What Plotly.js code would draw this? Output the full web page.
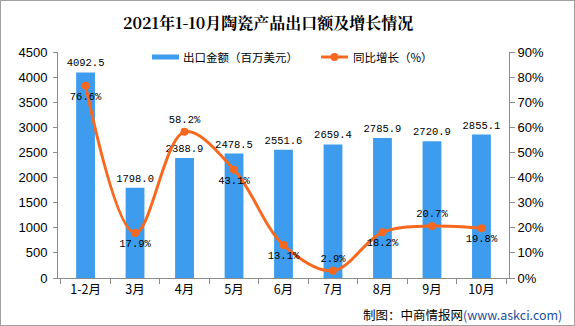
<!DOCTYPE html>
<html>
<head>
<meta charset="utf-8">
<script src="https://cdn.plot.ly/plotly-3.0.1.min.js"></script>
<style>
html,body{margin:0;padding:0;background:#fff;}
#wrap{position:relative;width:575px;height:326px;}
#chart{width:575px;height:326px;}
#frame{position:absolute;left:0;top:0;width:575px;height:326px;box-sizing:border-box;border:1px solid #a0a0a0;pointer-events:none;}
</style>
</head>
<body>
<div id="wrap"><div id="chart"></div><div id="frame"></div></div>
<script>
const categories = ['1-2月','3月','4月','5月','6月','7月','8月','9月','10月'];
const exportValues = [4092.5, 1798.0, 2388.9, 2478.5, 2551.6, 2659.4, 2785.9, 2720.9, 2855.1];
const growthRates = [76.6, 17.9, 58.2, 43.1, 13.1, 2.9, 18.2, 20.7, 19.8];
const growthLabelPos = ['bottom center','bottom center','top center','bottom center','bottom center','top center','bottom center','top center','bottom center'];
const seriesNames = ['出口金额（百万美元）', '同比增长（%）'];

const barColor = '#3d9cee';
const lineColor = '#f8681f';
const axisColor = '#8c8c8c';
const tickFont = {family: 'Liberation Sans, Arial, sans-serif', size: 13, color: '#000'};
const labelFont = {family: 'Liberation Mono, DejaVu Sans Mono, monospace', size: 10.5, color: '#000'};

const bars = {
  type: 'bar', x: categories, y: exportValues, name: seriesNames[0],
  marker: {color: barColor},
  text: exportValues.map(v => v.toFixed(1)), textposition: 'outside', constraintext: 'none',
  textfont: labelFont, cliponaxis: false, showlegend: false, hoverinfo: 'none'
};
const line = {
  type: 'scatter', mode: 'lines+markers+text', x: categories, y: growthRates, yaxis: 'y2',
  name: seriesNames[1],
  line: {color: lineColor, width: 3, shape: 'spline', smoothing: 1},
  marker: {color: lineColor, size: 8},
  text: growthRates.map(v => v.toFixed(1) + '%'), textposition: growthLabelPos,
  textfont: labelFont, cliponaxis: false, showlegend: false, hoverinfo: 'none'
};

const L = 58, R = 509, T = 52, B = 278;
const px = v => (v - L) / (R - L);
const py = v => (B - v) / (B - T);

const layout = {
  width: 575, height: 326,
  margin: {l: L, r: 575 - R, t: T, b: 326 - B},
  paper_bgcolor: '#fff', plot_bgcolor: '#fff',
  bargap: 0.62,
  font: {family: 'Noto Sans CJK SC, sans-serif'},
  xaxis: {
    type: 'category', showline: true, linecolor: axisColor, linewidth: 1,
    ticks: 'outside', tickson: 'boundaries', ticklen: 5, tickcolor: axisColor,
    tickfont: {family: 'Noto Sans CJK SC, sans-serif', size: 12.5, color: '#000'},
    showgrid: false, zeroline: false, fixedrange: true
  },
  yaxis: {
    range: [0, 4500], dtick: 500, showline: true, linecolor: axisColor, linewidth: 1,
    ticks: 'outside', ticklen: 4, tickcolor: axisColor, tickfont: tickFont,
    showgrid: false, zeroline: false, ticklabelstandoff: 3
  },
  yaxis2: {
    range: [0, 90], dtick: 10, ticksuffix: '%', overlaying: 'y', side: 'right',
    showline: true, linecolor: axisColor, linewidth: 1,
    ticks: 'outside', ticklen: 5, tickcolor: axisColor, tickfont: tickFont,
    showgrid: false, zeroline: false
  },
  annotations: [
    {xref: 'paper', yref: 'paper', x: px(268), y: py(22), xanchor: 'center', yanchor: 'middle',
     showarrow: false, text: '<b>2021年1-10月陶瓷产品出口额及增长情况</b>',
     font: {family: 'Noto Serif CJK SC, Noto Sans CJK SC, serif', size: 16, color: '#000'}},
    {xref: 'paper', yref: 'paper', x: px(181), y: py(57), xanchor: 'left', yanchor: 'middle',
     showarrow: false, text: seriesNames[0], font: {family: 'Noto Sans CJK SC, sans-serif', size: 11.5, color: '#000'}},
    {xref: 'paper', yref: 'paper', x: px(351), y: py(57), xanchor: 'left', yanchor: 'middle',
     showarrow: false, text: seriesNames[1], font: {family: 'Noto Sans CJK SC, sans-serif', size: 11.5, color: '#000'}},
    {xref: 'paper', yref: 'paper', x: px(564), y: py(314), xanchor: 'right', yanchor: 'middle',
     showarrow: false, text: '制图：中商情报网<span style="color:#1f4e9d">(www.askci.com)</span>',
     font: {family: 'Noto Sans CJK SC, sans-serif', size: 12.5, color: '#000'}}
  ],
  shapes: [
    {type: 'line', xref: 'paper', yref: 'paper', x0: px(152), x1: px(179), y0: py(57), y1: py(57),
     line: {color: barColor, width: 5}},
    {type: 'line', xref: 'paper', yref: 'paper', x0: px(321), x1: px(348), y0: py(57), y1: py(57),
     line: {color: lineColor, width: 3}},
    {type: 'circle', xref: 'paper', yref: 'paper', x0: px(330.5), x1: px(338.5), y0: py(53), y1: py(61),
     fillcolor: lineColor, line: {color: lineColor, width: 0}}
  ]
};

Plotly.newPlot('chart', [bars, line], layout, {staticPlot: true, displayModeBar: false});
</script>
</body>
</html>
